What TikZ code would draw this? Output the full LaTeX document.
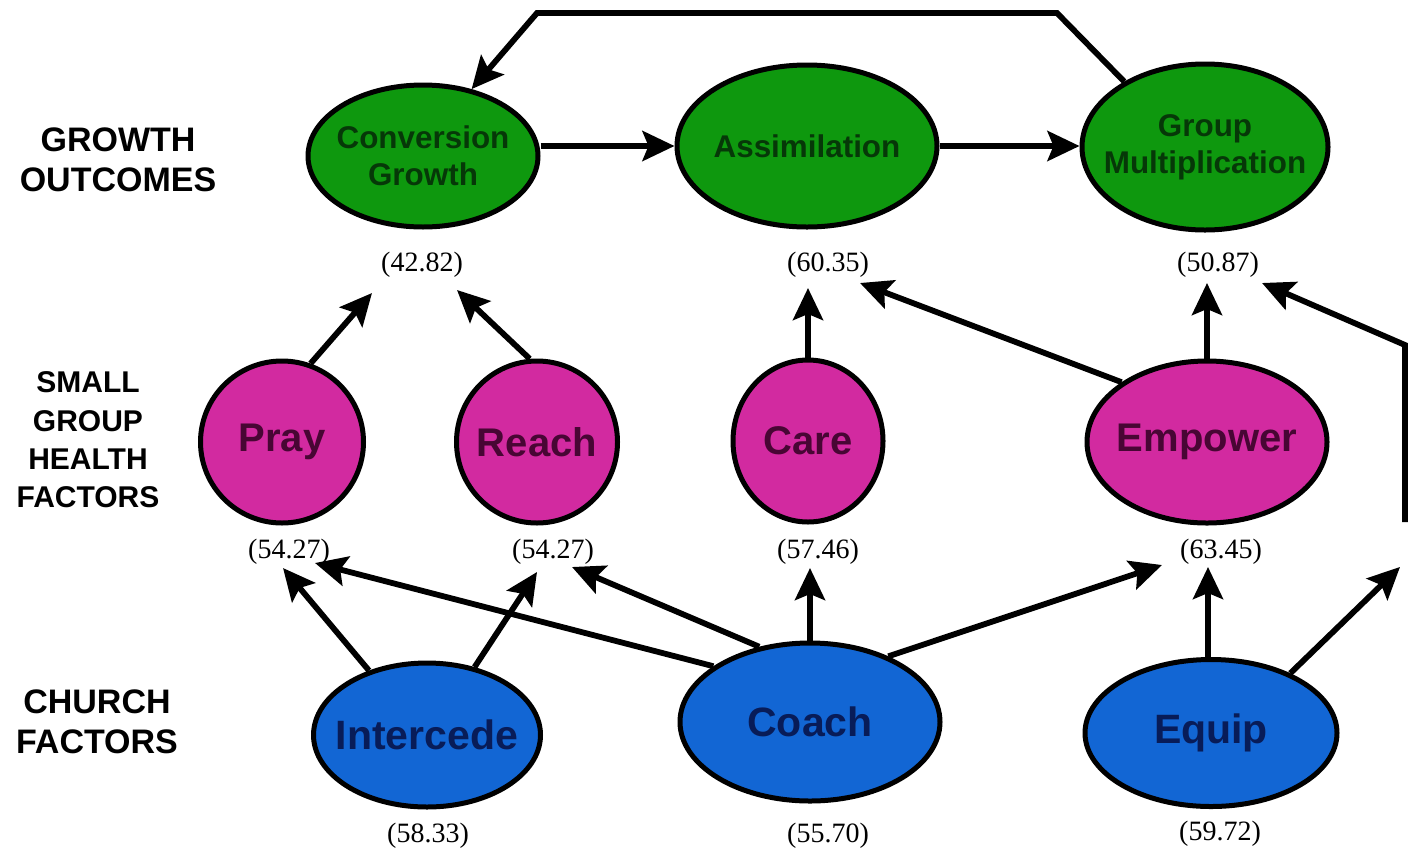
\documentclass[tikz,border=0pt]{standalone}
\usepackage{fontspec}
\setmainfont{Liberation Serif}
\setsansfont{Liberation Sans}
\usetikzlibrary{shapes.geometric,arrows.meta}
\definecolor{gfill}{RGB}{14,152,14}
\definecolor{gtext}{RGB}{6,56,8}
\definecolor{pfill}{RGB}{210,42,160}
\definecolor{ptext}{RGB}{72,6,52}
\definecolor{bfill}{RGB}{18,102,212}
\definecolor{btext}{RGB}{8,28,88}
\begin{document}
\begin{tikzpicture}[x=0.5pt,y=-0.5pt,
  every node/.style={inner sep=0pt},
  bub/.style={ellipse, draw=black, line width=2.5pt, align=center, inner sep=-30pt},
  outc/.style={bub, fill=gfill, text=gtext, font=\sffamily\bfseries\fontsize{15.7}{18.5}\selectfont},
  hlth/.style={bub, fill=pfill, text=ptext, font=\sffamily\bfseries\fontsize{20}{24}\selectfont},
  chf/.style={bub, fill=bfill, text=btext, font=\sffamily\bfseries\fontsize{20.5}{24}\selectfont},
  rowlab/.style={align=center, font=\sffamily\bfseries\fontsize{17}{20}\selectfont},
  num/.style={font=\fontsize{14}{16}\selectfont},
  arr/.style={line width=2.9pt, -{Stealth[length=16pt,width=15pt,inset=3pt]}},
]
\useasboundingbox (0,0) rectangle (1413,852);
\fill[white] (0,0) rectangle (1413,852);

% row labels
\node[rowlab] (lg) at (118,160) {GROWTH\\OUTCOMES};
\node[rowlab, font=\sffamily\bfseries\fontsize{15}{19.2}\selectfont] (lh) at (88,440) {SMALL\\GROUP\\HEALTH\\FACTORS};
\node[rowlab] (lc) at (97,722) {CHURCH\\FACTORS};

% top row
\node[outc, minimum width=115pt, minimum height=71pt] (conv) at (423,156) {Conversion\\Growth};
\node[outc, minimum width=130pt, minimum height=81pt] (assim) at (807,146) {Assimilation};
\node[outc, minimum width=123pt, minimum height=83pt] (gm) at (1205,147) {Group\\Multiplication};

% middle row
\node[hlth, minimum width=81.5pt, minimum height=81pt] (pray) at (282,442) {Pray};
\node[hlth, minimum width=80.5pt, minimum height=81pt] (reach) at (537,442) {Reach};
\node[hlth, minimum width=75pt, minimum height=81pt] (care) at (808,441) {Care};
\node[hlth, minimum width=120pt, minimum height=81pt] (emp) at (1207,442) {Empower};

% bottom row
\node[chf, minimum width=113.5pt, minimum height=72pt] (inter) at (427,735) {Intercede};
\node[chf, minimum width=130pt, minimum height=79pt] (coach) at (810,722) {Coach};
\node[chf, minimum width=126pt, minimum height=73.5pt] (equip) at (1211,733) {Equip};

% numbers
\node[num] (n1) at (422,265) {(42.82)};
\node[num] (n2) at (828,265) {(60.35)};
\node[num] (n3) at (1218,265) {(50.87)};
\node[num] (n4) at (289,552) {(54.27)};
\node[num] (n5) at (553,552) {(54.27)};
\node[num] (n6) at (818,552) {(57.46)};
\node[num] (n7) at (1221,552) {(63.45)};
\node[num] (n8) at (428,836) {(58.33)};
\node[num] (n9) at (828,836) {(55.70)};
\node[num] (n10) at (1220,834) {(59.72)};

% tip coordinates
\coordinate (t1) at (372,293);
\coordinate (t2) at (457,290);
\coordinate (t3) at (808,288);
\coordinate (t4) at (860,283);
\coordinate (t5) at (1207,283);
\coordinate (t6) at (1262,283);
\coordinate (r1) at (1405,522);
\coordinate (r2) at (1405,345);
\coordinate (t7) at (283,568);
\coordinate (t8) at (537,572);
\coordinate (t9) at (315,563);
\coordinate (t10) at (572,567);
\coordinate (t11) at (810,568);
\coordinate (t12) at (1162,565);
\coordinate (t13) at (1208,567);
\coordinate (t14) at (1400,567);
\coordinate (l1) at (1057,13);
\coordinate (l2) at (537,13);

% top connectors
\draw[arr] (conv.east |- assim.west) -- (assim.west);
\draw[arr] (assim.east) -- (gm.west |- assim.east);
\draw[arr] (gm.141) -- (l1) -- (l2) -- (conv.54);

% middle connectors
\draw[arr] (pray.70) -- (t1);
\draw[arr] (reach.95) -- (t2);
\draw[arr] (care.north) -- (t3);
\draw[arr] (emp.145) -- (t4);
\draw[arr] (emp.north) -- (t5);
\draw[arr] (r1) -- (r2) -- (t6);

% bottom connectors
\draw[arr] (inter.132) -- (t7);
\draw[arr] (inter.55) -- (t8);
\draw[arr] (coach.150) -- (t9);
\draw[arr] (coach.124) -- (t10);
\draw[arr] (coach.north) -- (t11);
\draw[arr] (coach.40) -- (t12);
\draw[arr] (equip.north -| t13) -- (t13);
\draw[arr] (equip.37) -- (t14);
\end{tikzpicture}
\end{document}
